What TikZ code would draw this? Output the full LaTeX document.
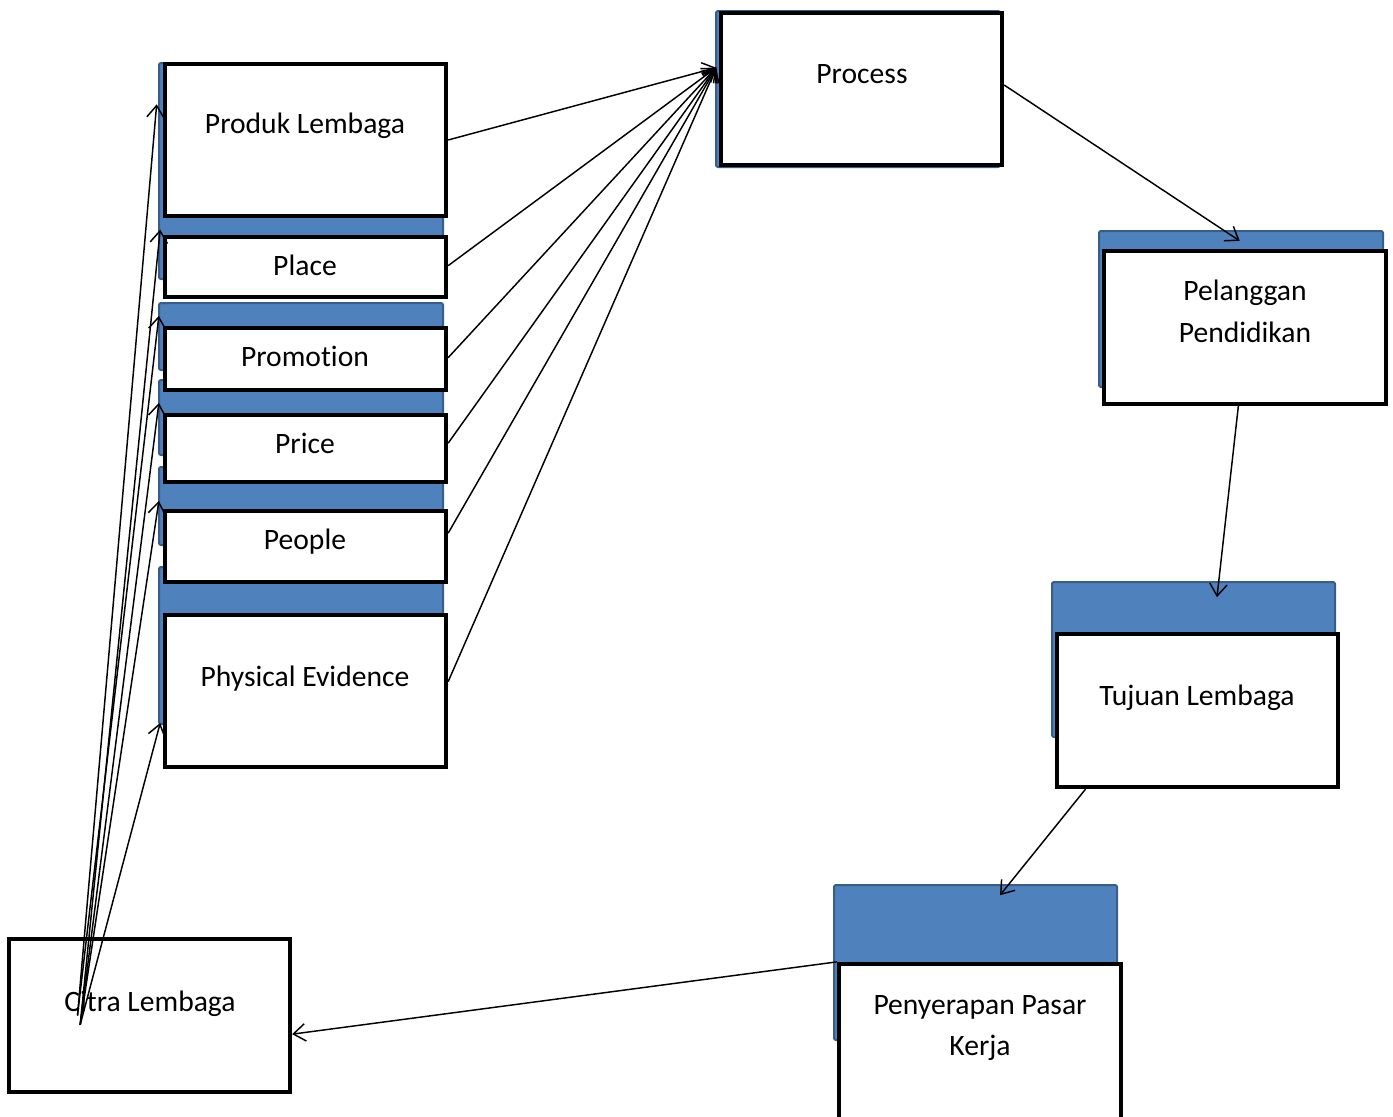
\documentclass[tikz,border=0pt]{standalone}
\usepackage{fontspec}
\setmainfont{Carlito}[Ligatures=NoCommon]
\usetikzlibrary{arrows.meta,fit,calc}
\definecolor{bluefill}{HTML}{4F81BD}
\definecolor{blueedge}{HTML}{385D8A}
\begin{document}
\begin{tikzpicture}[x=0.75pt,y=-0.75pt,
  bluebox/.style={draw=blueedge,line width=1.5pt,fill=bluefill,rounded corners=1.5pt,inner sep=0pt},
  whitebox/.style={draw=black,line width=3.2pt,fill=white,inner sep=0pt},
  txt/.style={font=\fontsize{22.2}{27}\selectfont,anchor=base,inner sep=0pt},
  conn/.style={draw=black,line width=1.1pt,-{Straight Barb[length=9pt,width=13pt]}}]
\useasboundingbox (0,0) rectangle (1393,1117);
% blue backing shapes
\node[bluebox,fit={(159,63)(443,279)}] (bProd) {};
\node[bluebox,fit={(159,303)(443,370)}] (bProm) {};
\node[bluebox,fit={(159,380)(443,455)}] (bPrice) {};
\node[bluebox,fit={(159,467)(443,545)}] (bPeople) {};
\node[bluebox,fit={(159,567)(443,724)}] (bPhys) {};
\node[bluebox,fit={(716,11)(1000,167)}] (bProc) {};
\node[bluebox,fit={(1099,231)(1383,387)}] (bPel) {};
\node[bluebox,fit={(1052,582)(1335,737)}] (bTuj) {};
\node[bluebox,fit={(834,885)(1117,1040)}] (bPen) {};
% white boxes
\node[whitebox,fit={(165,64)(446,216)}] (prod) {};
\node[whitebox,fit={(165,237)(446,297)}] (place) {};
\node[whitebox,fit={(165,328)(446,390)}] (prom) {};
\node[whitebox,fit={(165,415)(446,482)}] (price) {};
\node[whitebox,fit={(165,511)(446,582)}] (people) {};
\node[whitebox,fit={(165,615)(446,767)}] (phys) {};
\node[whitebox,fit={(721,13)(1002,165)}] (proc) {};
\node[whitebox,fit={(1104,251)(1386,404)}] (pel) {};
\node[whitebox,fit={(1057,634)(1338,787)}] (tuj) {};
\node[whitebox,fit={(839,964)(1121,1130)}] (pen) {};
\node[whitebox,fit={(9,939)(290,1092)}] (citra) {};
% texts
\node[txt] (prodT) at (305,133) {Produk Lembaga};
\node[txt] (placeT) at (305,275) {Place};
\node[txt] (promT) at (305,366) {Promotion};
\node[txt] (priceT) at (305,453) {Price};
\node[txt] (peopleT) at (305,549) {People};
\node[txt] (physT) at (305,686) {Physical Evidence};
\node[txt] (procT) at (862,83) {Process};
\node[txt] (pelT1) at (1245,300) {Pelanggan};
\node[txt] (pelT2) at (1245,342) {Pendidikan};
\node[txt] (tujT) at (1197,705) {Tujuan Lembaga};
\node[txt] (penT1) at (980,1014) {Penyerapan Pasar};
\node[txt] (penT2) at (980,1055) {Kerja};
\node[txt] (citraT) at (150,1011) {Citra Lembaga};
% connector end points
\coordinate (procIn) at ([xshift=-2pt,yshift=16pt]proc.west);
\coordinate (citraOut) at ([xshift=-52pt,yshift=-7pt]citra.center);
\coordinate (citraOut2) at ([xshift=-54pt,yshift=0pt]citra.center);
% mix elements to Process
\draw[conn] (prod.east) -- (procIn);
\draw[conn] ([yshift=1pt]place.east) -- (procIn);
\draw[conn] ([yshift=1pt]prom.east) -- (procIn);
\draw[conn] ([yshift=4pt]price.east) -- (procIn);
\draw[conn] ([yshift=10pt]people.east) -- (procIn);
\draw[conn] ([yshift=7pt]phys.east) -- (procIn);
% main cycle
\draw[conn] ([yshift=3pt]proc.east) -- ([xshift=-4pt,yshift=6pt]pel.north);
\draw[conn] ([xshift=-5pt]pel.south) -- ([xshift=14.6pt,yshift=26pt]tuj.north);
\draw[conn] ([xshift=23pt]tuj.south west) -- ([xshift=15pt,yshift=50pt]pen.north);
\draw[conn] (pen.north west) -- ([yshift=-14pt]citra.east);
% Citra Lembaga to mix elements
\draw[conn] (citraOut2) -- ([xshift=-1pt,yshift=50pt]bProd.west);
\draw[conn] (citraOut) -- ([xshift=-2pt,yshift=4pt]place.north west);
\draw[conn] (citraOut2) -- ([xshift=-3pt,yshift=7.5pt]prom.north west);
\draw[conn] (citraOut) -- ([xshift=-3pt,yshift=7.5pt]price.north west);
\draw[conn] (citraOut) -- ([xshift=-3pt,yshift=6pt]people.north west);
\draw[conn] (citraOut) -- ([xshift=-2pt,yshift=-24pt]phys.west);
\end{tikzpicture}
\end{document}
